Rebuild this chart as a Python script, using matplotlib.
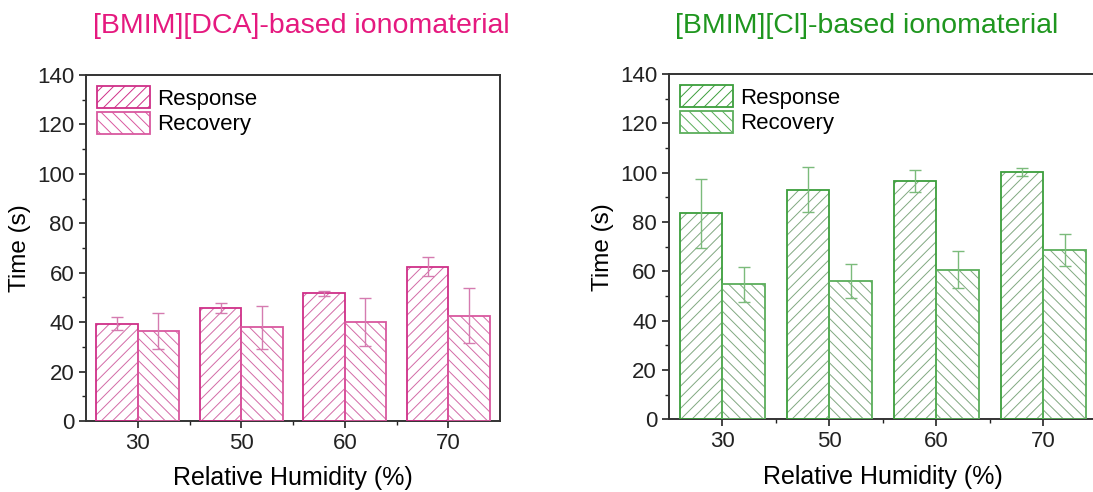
import matplotlib
matplotlib.use("Agg")
import matplotlib.pyplot as plt
import numpy as np
from matplotlib.ticker import MultipleLocator, FixedLocator
from matplotlib.patches import Patch

plt.rcParams['font.family'] = ['Liberation Sans', 'DejaVu Sans']
plt.rcParams['hatch.linewidth'] = 0.7

humidity = ['30', '50', '60', '70']

# [BMIM][DCA]
dca_response = [39.3, 45.6, 51.6, 62.5]
dca_response_err = [2.6, 2.0, 1.2, 3.9]
dca_recovery = [36.6, 37.9, 40.0, 42.6]
dca_recovery_err = [7.3, 8.7, 9.8, 11.1]

# [BMIM][Cl]
cl_response = [83.5, 93.0, 96.6, 100.2]
cl_response_err = [14.0, 9.1, 4.6, 1.5]
cl_recovery = [54.7, 56.1, 60.6, 68.6]
cl_recovery_err = [7.2, 7.0, 7.5, 6.6]

fig = plt.figure(figsize=(10.93, 4.92), dpi=100)
ax1 = fig.add_axes([0.0787, 0.1443, 0.3788, 0.7033])
ax2 = fig.add_axes([0.612, 0.1478, 0.3916, 0.7018])


def draw_panel(ax, resp, resp_err, rec, rec_err, edge, edge2, hatch_col, err_col,
               title, title_col, title_x):
    x = np.arange(1, len(humidity) + 1)
    w = 0.4
    ax.bar(x - w / 2, resp, w, facecolor='white', edgecolor=hatch_col, hatch='///',
           linewidth=0, zorder=2)
    ax.bar(x - w / 2, resp, w, facecolor='none', edgecolor=edge, linewidth=1.3, zorder=3)
    ax.bar(x + w / 2, rec, w, facecolor='white', edgecolor=hatch_col, hatch='\\\\\\',
           linewidth=0, zorder=2)
    ax.bar(x + w / 2, rec, w, facecolor='none', edgecolor=edge2, linewidth=1.3, zorder=3)
    ax.errorbar(x - w / 2, resp, yerr=resp_err, fmt='none', ecolor=err_col,
                elinewidth=1.0, capsize=4, capthick=1.0, zorder=4)
    ax.errorbar(x + w / 2, rec, yerr=rec_err, fmt='none', ecolor=err_col,
                elinewidth=1.0, capsize=4, capthick=1.0, zorder=4)

    ax.set_xlim(0.5, 4.5)
    ax.set_ylim(0, 140)
    ax.set_xticks(x)
    ax.set_xticklabels(humidity)
    ax.xaxis.set_minor_locator(FixedLocator([1.5, 2.5, 3.5]))
    ax.yaxis.set_major_locator(MultipleLocator(20))
    ax.yaxis.set_minor_locator(MultipleLocator(10))
    ax.tick_params(axis='both', which='major', labelsize=16, length=5, width=1.2,
                   direction='out', colors='#222222')
    ax.tick_params(axis='both', which='minor', length=3, width=1.0, direction='out',
                   colors='#222222')
    for s in ax.spines.values():
        s.set_linewidth(1.4)
        s.set_color('#333333')
    ax.set_xlabel('Relative Humidity (%)', fontsize=18, labelpad=9)
    ax.set_ylabel('Time (s)', fontsize=17.5, labelpad=4)

    handles = [
        Patch(facecolor='white', edgecolor=edge, hatch='///', linewidth=1.3),
        Patch(facecolor='white', edgecolor=edge2, hatch='\\\\\\', linewidth=1.3),
    ]
    ax.legend(handles, ['Response', 'Recovery'], loc='upper left', frameon=False,
              fontsize=16, handlelength=2.4, handleheight=1.15, labelspacing=0.1,
              handletextpad=0.3, borderaxespad=0.1)

    fig.text(title_x, 0.947, title, color=title_col, fontsize=20.5, ha='center', va='center')


draw_panel(ax1, dca_response, dca_response_err, dca_recovery, dca_recovery_err,
           edge='#cf2f88', edge2='#d9589f', hatch_col='#d36aa6', err_col='#d57bb0',
           title='[BMIM][DCA]-based ionomaterial', title_col='#e5197f', title_x=0.276)
draw_panel(ax2, cl_response, cl_response_err, cl_recovery, cl_recovery_err,
           edge='#3c9e3c', edge2='#5aae5a', hatch_col='#80a880', err_col='#7bbb7b',
           title='[BMIM][Cl]-based ionomaterial', title_col='#1f961f', title_x=0.793)

fig.savefig('out.png', dpi=100)
